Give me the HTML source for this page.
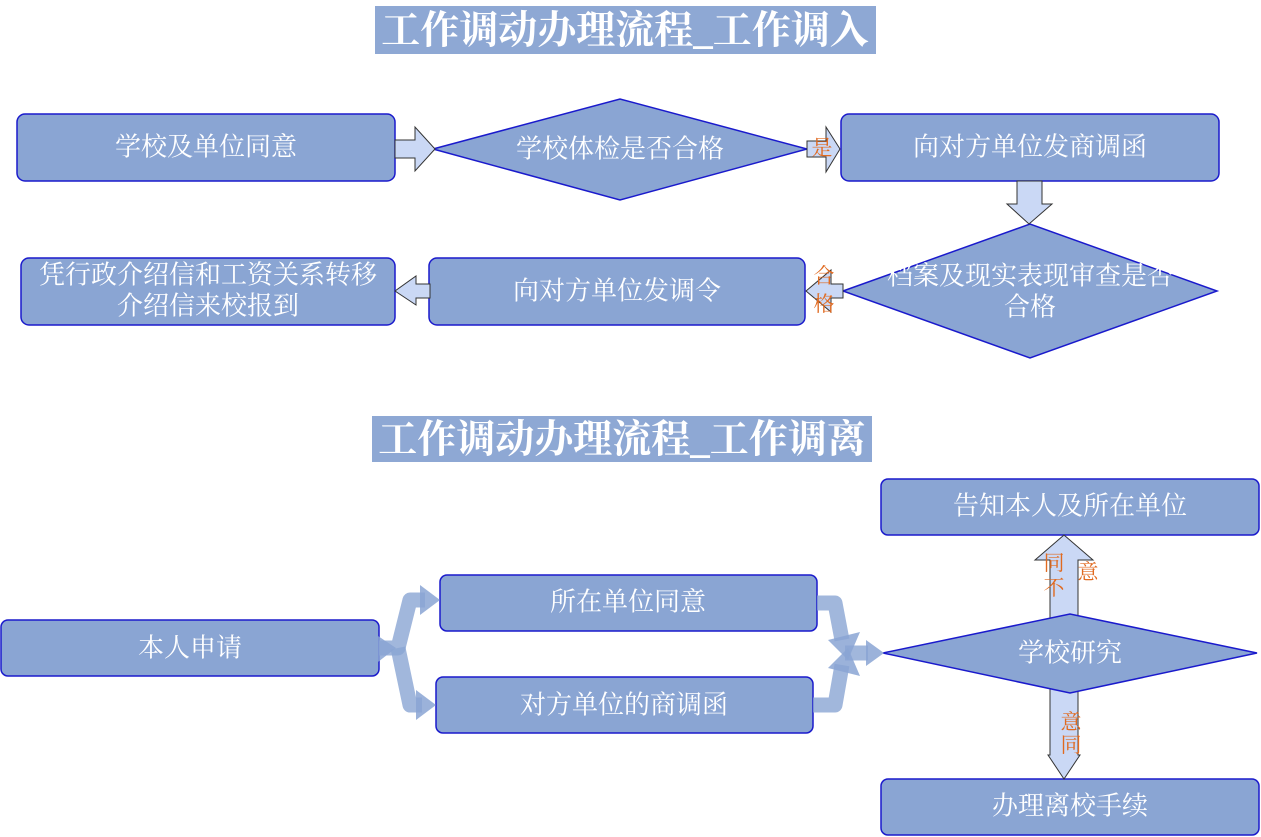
<!DOCTYPE html>
<html><head><meta charset="utf-8"><style>
html,body{margin:0;padding:0;background:#fff;}
svg{display:block}
.t{font-family:"Liberation Serif","Noto Serif CJK SC","Noto Sans CJK SC",serif;fill:#fff;font-size:26px;text-anchor:middle;dominant-baseline:central}
.h{font-family:"Liberation Serif","Noto Serif CJK SC",serif;fill:#fff;font-size:39px;font-weight:bold;text-anchor:middle;dominant-baseline:central}
.o{font-family:"Liberation Serif","Noto Serif CJK SC",serif;fill:#e06a20;font-size:21px;text-anchor:middle;dominant-baseline:central}
</style></head><body>
<svg width="1261" height="837" viewBox="0 0 1261 837" xmlns="http://www.w3.org/2000/svg">
<g fill="#8aa5d3" stroke="#1a1acc" stroke-width="1.5">
<rect x="17" y="114" width="378" height="67" rx="8"/>
<rect x="841" y="114" width="378" height="67" rx="8"/>
<rect x="429" y="258" width="376" height="67" rx="8"/>
<rect x="21" y="258" width="374" height="67" rx="8"/>
<polygon points="433,149 620,99 807,149 620,200"/>
<polygon points="843,291 1030,224 1217,291 1030,358"/>
<rect x="1" y="620" width="378" height="56" rx="7"/>
<rect x="440" y="575" width="377" height="56" rx="7"/>
<rect x="436" y="677" width="377" height="56" rx="7"/>
<rect x="881" y="479" width="378" height="56" rx="7"/>
<rect x="881" y="779" width="378" height="56" rx="7"/>
</g>
<rect x="375" y="6" width="501" height="48" fill="#8ea8d4"/>
<rect x="372" y="416" width="500" height="46" fill="#8ea8d4"/>
<text class="h" x="625" y="31">工作调动办理流程_工作调入</text>
<text class="h" x="622" y="440">工作调动办理流程_工作调离</text>
<g fill="#cad8f5" stroke="#333" stroke-width="1">
<polygon points="395,140 415,140 415,127 435,149 415,171 415,158 395,158"/>
<polygon points="807,141 826,141 826,127 840,149 826,172 826,157 807,157"/>
<polygon points="1017,181 1042,181 1042,204 1052,204 1029,224 1007,204 1017,204"/>
<polygon points="843,284 831,284 831,270 806,291 831,312 831,298 843,298"/>
<polygon points="430,284 416,284 416,276 395,291 416,305 416,298 430,298"/>
<polygon points="1050,620 1050,560 1035,560 1064,535 1093,560 1078,560 1078,620"/>
<polygon points="1050,688 1050,755 1048,755 1064,779 1080,755 1078,755 1078,688"/>
</g>
<polygon points="883,653 1070,614 1257,653 1070,693" fill="#8aa5d3" stroke="#1a1acc" stroke-width="1.5"/>
<g fill="none" stroke="#8aa5d3" stroke-opacity="0.8" stroke-width="15" stroke-linejoin="round">
<polyline points="379,648 398,648 410,600 425,600"/>
<polyline points="398,648 410,705 422,705"/>
<polyline points="817,603 835,603 842,640"/>
<polyline points="813,705 835,705 842,665"/>
<line x1="845" y1="653" x2="868" y2="653"/>
</g>
<g fill="#8aa5d3" fill-opacity="0.85">
<polygon points="420,585 440,600 420,615"/>
<polygon points="416,690 436,705 416,720"/>
<polygon points="828,640 860,632 848,660"/>
<polygon points="828,668 860,676 848,648"/>
<polygon points="866,640 884,653 866,666"/>
<polygon points="378,636 396,648 378,662"/>
</g>
<text class="t" x="206" y="147">学校及单位同意</text>
<text class="t" x="620" y="149">学校体检是否合格</text>
<text class="t" x="1030" y="147">向对方单位发商调函</text>
<text class="t" x="1030" y="276">档案及现实表现审查是否</text>
<text class="t" x="1030" y="307">合格</text>
<text class="t" x="617" y="291">向对方单位发调令</text>
<text class="t" x="208" y="275">凭行政介绍信和工资关系转移</text>
<text class="t" x="208" y="306">介绍信来校报到</text>
<text class="t" x="190" y="648">本人申请</text>
<text class="t" x="628" y="602">所在单位同意</text>
<text class="t" x="624" y="705">对方单位的商调函</text>
<text class="t" x="1070" y="653">学校研究</text>
<text class="t" x="1070" y="506">告知本人及所在单位</text>
<text class="t" x="1070" y="806">办理离校手续</text>
<text class="o" x="822" y="148">是</text>
<text class="o" x="824" y="276">合</text>
<text class="o" x="824" y="304">格</text>
<text class="o" x="1054" y="588">不</text>
<text class="o" x="1054" y="563">同</text>
<text class="o" x="1088" y="572">意</text>
<text class="o" x="1071" y="722">意</text>
<text class="o" x="1071" y="745">同</text>
</svg>
</body></html>
